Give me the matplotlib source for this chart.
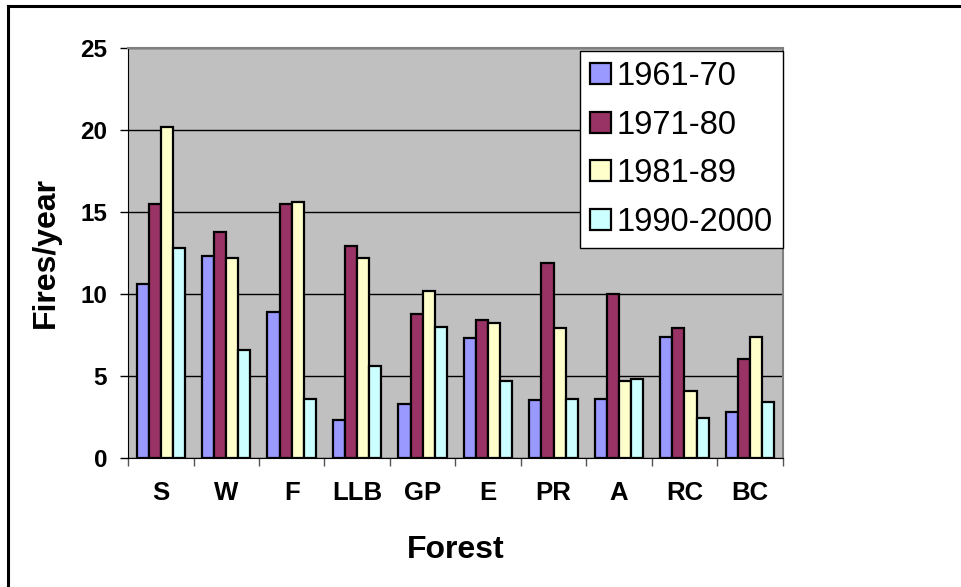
import numpy as np
import matplotlib
matplotlib.use("Agg")
import matplotlib.pyplot as plt
from matplotlib.lines import Line2D

plt.rcParams['font.family'] = ['Liberation Sans', 'DejaVu Sans']

# Mean number of fires per year, by forest and decade
forests = ["S", "W", "F", "LLB", "GP", "E", "PR", "A", "RC", "BC"]
periods = ["1961-70", "1971-80", "1981-89", "1990-2000"]
fires_1961_70 = [10.6, 12.3, 8.9, 2.3, 3.3, 7.3, 3.5, 3.6, 7.4, 2.8]
fires_1971_80 = [15.5, 13.8, 15.5, 12.9, 8.8, 8.4, 11.9, 10.0, 7.9, 6.0]
fires_1981_89 = [20.2, 12.2, 15.6, 12.2, 10.2, 8.2, 7.9, 4.7, 4.1, 7.4]
fires_1990_2000 = [12.8, 6.6, 3.6, 5.6, 8.0, 4.7, 3.6, 4.8, 2.4, 3.4]
series = [fires_1961_70, fires_1971_80, fires_1981_89, fires_1990_2000]
colors = ["#9999FF", "#993366", "#FFFFCC", "#CCFFFF"]

fig = plt.figure(figsize=(9.62, 5.87), dpi=100)
ax = fig.add_axes([0.1331, 0.2203, 0.6805, 0.6974])
ax.set_facecolor("#C0C0C0")

x = np.arange(len(forests))
width = 0.185
for i, (vals, col, lab) in enumerate(zip(series, colors, periods)):
    ax.bar(x + (i - 1.5) * width, vals, width, color=col, edgecolor="black",
           linewidth=1.6, label=lab, zorder=3)

ax.set_xlim(-0.5, len(forests) - 0.5)
ax.set_ylim(0, 25)
ax.set_yticks(np.arange(0, 26, 5))
ax.yaxis.grid(True, color="black", linewidth=1.0, zorder=1)
ax.set_axisbelow(True)

# category boundaries get the tick marks, centres get the names
ax.set_xticks(np.arange(-0.5, len(forests), 1.0))
ax.set_xticklabels([])
ax.set_xticks(x, minor=True)
ax.set_xticklabels(forests, minor=True, fontsize=18.5, fontweight="bold")
ax.tick_params(axis="x", which="major", direction="out", length=6, width=1, color="#555555")
ax.tick_params(axis="x", which="minor", length=0, pad=17)
ax.tick_params(axis="y", direction="out", length=6, width=1, pad=9)
for lbl in ax.get_yticklabels():
    lbl.set_fontsize(17.5)
    lbl.set_fontweight("bold")

for side in ["top", "right"]:
    ax.spines[side].set_color("#808080")
    ax.spines[side].set_linewidth(1.5)
ax.spines["left"].set_color("black")
ax.spines["bottom"].set_color("black")

ax.set_ylabel("Fires/year", fontsize=23, fontweight="bold")
ax.yaxis.set_label_coords(-0.102, 0.5)
ax.set_xlabel("Forest", fontsize=23, fontweight="bold")
ax.xaxis.set_label_coords(0.5, -0.19)

leg = ax.legend(loc="upper right", bbox_to_anchor=(1.0, 0.993), fontsize=23.5,
                frameon=True, fancybox=False, edgecolor="black", framealpha=1,
                handlelength=0.64, handleheight=0.62, handletextpad=0.18,
                labelspacing=0.54, borderpad=0.3, borderaxespad=0)
leg.get_frame().set_linewidth(1.0)

# outer chart frame
fig.add_artist(Line2D([8 / 962, 8 / 962], [0, 1 - 6 / 587], transform=fig.transFigure,
                      color="black", linewidth=2.2))
fig.add_artist(Line2D([8 / 962, 1], [1 - 6 / 587, 1 - 6 / 587], transform=fig.transFigure,
                      color="black", linewidth=2.2))

fig.savefig("out.png", dpi=100)
